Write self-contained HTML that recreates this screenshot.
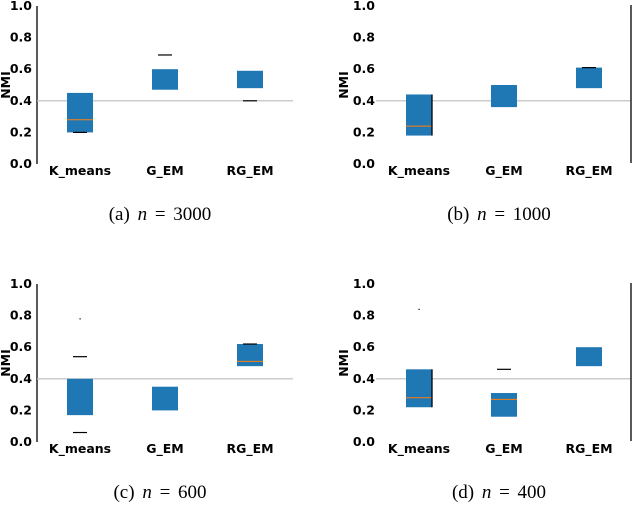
<!DOCTYPE html>
<html><head><meta charset="utf-8"><style>
html,body{margin:0;padding:0;background:#fff;width:632px;height:506px;overflow:hidden}
svg{display:block}
.tk{font-family:"DejaVu Sans","Liberation Sans",sans-serif;font-weight:bold;font-size:12.5px;fill:#000}
.cap{font-family:"Liberation Serif",serif;font-size:19px;fill:#000;word-spacing:3px}
</style></head><body>
<svg id="c" width="632" height="506"></svg>
<script>
const categories=["K_means","G_EM","RG_EM"];
const yTicks=[0,0.2,0.4,0.6,0.8,1.0];
const capLetters=["(a)","(b)","(c)","(d)"];
const capN=["3000","1000","600","400"];
const boxLow=[[0.20,0.47,0.48],[0.18,0.36,0.48],[0.17,0.20,0.48],[0.22,0.16,0.48]];
const boxHigh=[[0.45,0.60,0.59],[0.44,0.50,0.61],[0.40,0.35,0.62],[0.46,0.31,0.60]];
const medians=[[0.28,null,null],[0.24,null,null],[null,null,0.51],[0.28,0.27,null]];
const dashes=[[[0.20],[0.69],[0.40]],[[],[],[0.61]],[[0.54,0.06],[],[0.62]],[[],[0.46],[]]];
const dots=[[[],[],[]],[[],[],[]],[[0.78],[],[]],[[0.84],[],[]]];
const refLine=0.4;
const panels=[{ox:0,oy:0,axis:true,right:false},{ox:316,oy:0,axis:false,right:true},{ox:0,oy:278,axis:true,right:false},{ox:316,oy:278,axis:false,right:true}];
const svg=document.getElementById('c');const NS='http://www.w3.org/2000/svg';
function mk(t,a,p){const e=document.createElementNS(NS,t);for(const k in a)e.setAttribute(k,a[k]);(p||svg).appendChild(e);return e;}
panels.forEach((P,pi)=>{
  const g=mk('g',{});
  
  
  const ax0=P.ox+37, y0=P.oy+164, yr=158;
  const ys=v=>y0-v*yr;
  const xs=i=>P.ox+(P.axis?80:103)+i*85;
  if(P.axis){const l=mk('line',{x1:ax0,x2:ax0,y1:ys(1),y2:ys(0),stroke:'#000','stroke-width':1.3},g);}
  const rl=mk('line',{x1:P.axis?ax0:P.ox+60,x2:P.right?631:P.ox+293,y1:ys(refLine),y2:ys(refLine),stroke:'#bbb','stroke-width':1.2},g);
  
  if(P.right){const r=mk('line',{x1:631,x2:631,y1:ys(1)-1,y2:ys(0)-1,stroke:'#000','stroke-width':1.3},g);}
  yTicks.forEach(v=>{const t=mk('text',{x:P.ox+(P.axis?32:59),y:ys(v)+4,'text-anchor':'end',class:'tk'},g);t.textContent=v.toFixed(1);});
  const yl=mk('text',{x:0,y:0,class:'tk','text-anchor':'middle',transform:`translate(${P.ox+(P.axis?10:32)},${ys(0.5)}) rotate(-90)`},g);
  yl.textContent='NMI';
  categories.forEach((c,i)=>{
    const cx=xs(i);
    const b=mk('rect',{x:cx-13,y:ys(boxHigh[pi][i]),width:26,height:ys(boxLow[pi][i])-ys(boxHigh[pi][i]),fill:'#1f77b4'},g);
    
    if(medians[pi][i]!=null){const m=mk('line',{x1:cx-13,x2:cx+13,y1:ys(medians[pi][i]),y2:ys(medians[pi][i]),stroke:'#ff7f0e','stroke-width':1},g);}
    dashes[pi][i].forEach(v=>{const d=mk('line',{x1:cx-7,x2:cx+7,y1:ys(v),y2:ys(v),stroke:'#000','stroke-width':1.2},g);});
    dots[pi][i].forEach(v=>{const d=mk('rect',{x:cx-0.5,y:ys(v)-0.5,width:1.2,height:1.2,fill:'#000'},g);});
    if((pi===1||pi===3)&&i===0){const e=mk('line',{x1:cx+13,x2:cx+13,y1:ys(boxHigh[pi][i]),y2:ys(boxLow[pi][i]),stroke:'#000','stroke-width':1.3},g);}
    const t=mk('text',{x:cx,y:y0+11,'text-anchor':'middle',class:'tk'},g);t.textContent=c;
  });
  const cp=mk('text',{x:P.ox+(P.axis?160:183),y:P.oy+220,'text-anchor':'middle',class:'cap'},g);
  
  const t1=mk('tspan',{},cp);t1.textContent=capLetters[pi]+'  ';
  const t2=mk('tspan',{'font-style':'italic'},cp);t2.textContent='n';
  const t3=mk('tspan',{},cp);t3.textContent=' = '+capN[pi];
});
</script>
</body></html>
